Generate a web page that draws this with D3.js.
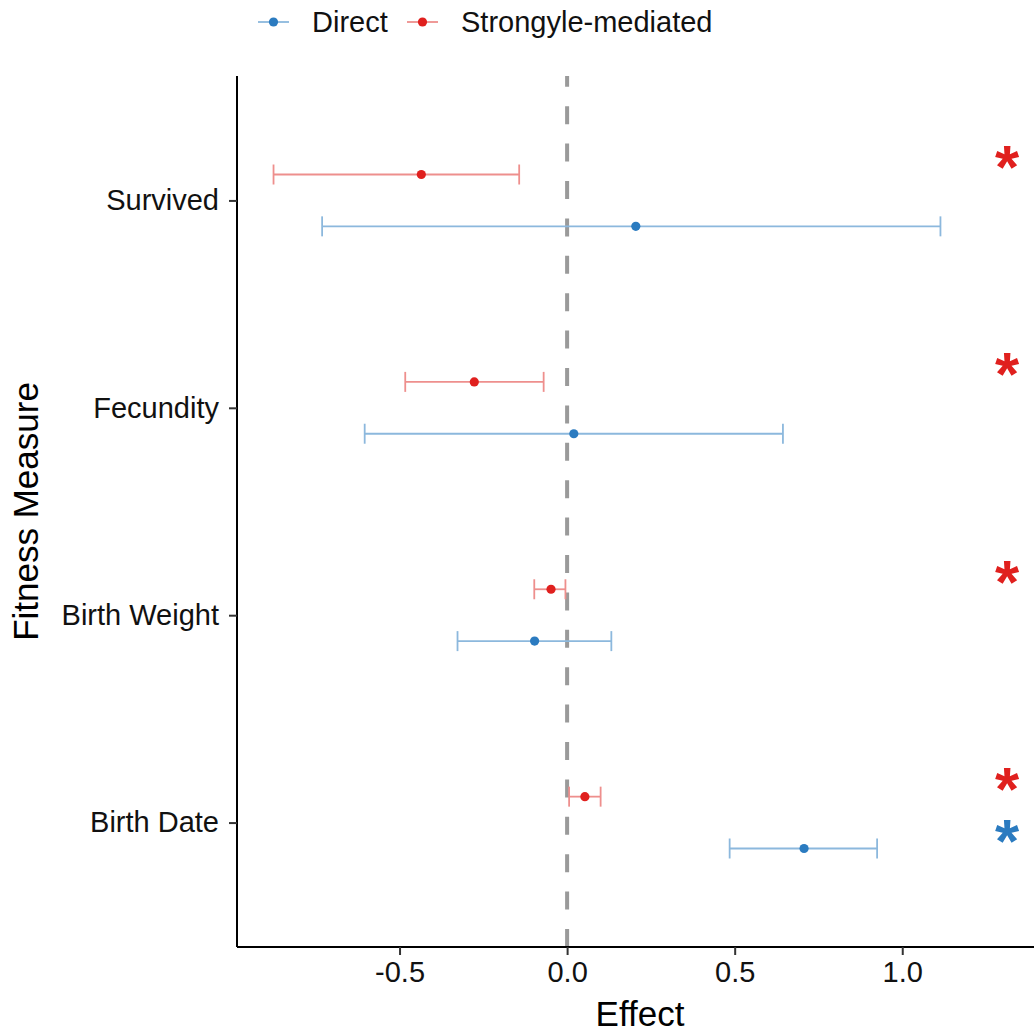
<!DOCTYPE html>
<html>
<head>
<meta charset="utf-8">
<script src="https://cdn.jsdelivr.net/npm/d3@7"></script>
<style>
  body { margin: 0; background: #fff; }
  text { font-family: "Liberation Sans", Arial, sans-serif; }
</style>
</head>
<body>
<div id="chart"></div>
<script>
// Fitness measures, top to bottom
const categories = ['Survived', 'Fecundity', 'Birth Weight', 'Birth Date'];
const seriesNames = ['Direct', 'Strongyle-mediated'];

// Direct effects (estimate and interval)
const directEst = [0.205, 0.020, -0.097, 0.707];
const directLow = [-0.731, -0.604, -0.327, 0.485];
const directHigh = [1.114, 0.644, 0.132, 0.925];
const directSig = [false, false, false, true];

// Strongyle-mediated effects
const strongEst = [-0.435, -0.277, -0.048, 0.053];
const strongLow = [-0.876, -0.483, -0.098, 0.006];
const strongHigh = [-0.143, -0.070, -0.005, 0.100];
const strongSig = [true, true, true, true];

const xTicks = [-0.5, 0.0, 0.5, 1.0];
const starX = 1.313;

const width = 1034, height = 1031;
const colors = { 'Direct': '#2b7bc0', 'Strongyle-mediated': '#e0201e' };
const barColors = { 'Direct': '#8cb8dd', 'Strongyle-mediated': '#ee8f8d' };
const dodge = { 'Direct': 0.125, 'Strongyle-mediated': -0.125 };

const rows = [];
categories.forEach((c, i) => {
  rows.push({ cat: c, series: 'Direct', est: directEst[i], lo: directLow[i], hi: directHigh[i], sig: directSig[i] });
  rows.push({ cat: c, series: 'Strongyle-mediated', est: strongEst[i], lo: strongLow[i], hi: strongHigh[i], sig: strongSig[i] });
});

const svg = d3.select('#chart').append('svg')
  .attr('width', width)
  .attr('height', height);

const plotTop = 76, plotBottom = 947, plotLeft = 237, plotRight = 1043;

// Scales
const x = d3.scaleLinear().domain([-0.985, 1.42]).range([plotLeft, plotRight]);
const y = d3.scalePoint().domain(categories).range([plotTop, plotBottom]).padding(0.6);
const step = y.step();
const yPos = d => y(d.cat) + dodge[d.series] * step;

// Zero reference line (drawn from the bottom up, like ggplot)
svg.append('line')
  .attr('x1', x(0)).attr('x2', x(0))
  .attr('y1', plotBottom).attr('y2', plotTop)
  .attr('stroke', '#9a9a9a')
  .attr('stroke-width', 4)
  .attr('stroke-dasharray', '18,19.4');

// Error bars
const bars = svg.append('g').selectAll('g').data(rows).join('g');
bars.append('line')
  .attr('x1', d => x(d.lo)).attr('x2', d => x(d.hi))
  .attr('y1', yPos).attr('y2', yPos)
  .attr('stroke', d => barColors[d.series])
  .attr('stroke-width', 1.8);
['lo', 'hi'].forEach(k => {
  bars.append('line')
    .attr('x1', d => x(d[k])).attr('x2', d => x(d[k]))
    .attr('y1', d => yPos(d) - 10).attr('y2', d => yPos(d) + 10)
    .attr('stroke', d => barColors[d.series])
    .attr('stroke-width', 1.8);
});

// Points
svg.append('g').selectAll('circle').data(rows).join('circle')
  .attr('cx', d => x(d.est))
  .attr('cy', yPos)
  .attr('r', 4.6)
  .attr('fill', d => colors[d.series]);

// Significance stars
svg.append('g').selectAll('text').data(rows.filter(d => d.sig)).join('text')
  .attr('x', x(starX))
  .attr('y', d => yPos(d) + 13.5)
  .attr('text-anchor', 'middle')
  .attr('font-size', 62)
  .attr('font-weight', 'bold')
  .attr('fill', d => colors[d.series])
  .text('*');

// X axis
const xAxis = svg.append('g')
  .attr('transform', `translate(0,${plotBottom})`)
  .call(d3.axisBottom(x).tickValues(xTicks).tickSizeInner(8).tickSizeOuter(0).tickPadding(6));
xAxis.select('.domain').attr('stroke', '#000').attr('stroke-width', 2)
  .attr('d', `M${plotLeft},0H${width + 20}`);
xAxis.selectAll('.tick line').attr('stroke', '#333').attr('stroke-width', 2);
xAxis.selectAll('.tick text').attr('font-size', 29).attr('fill', '#111')
  .text(d => d3.format('.1f')(d).replace('−', '-'));

// Y axis
const yAxis = svg.append('g')
  .attr('transform', `translate(${plotLeft},0)`)
  .call(d3.axisLeft(y).tickSizeInner(8).tickSizeOuter(0).tickPadding(10));
yAxis.select('.domain').attr('stroke', '#000').attr('stroke-width', 2)
  .attr('d', `M0,${plotTop}V${plotBottom}`);
yAxis.selectAll('.tick line').attr('stroke', '#333').attr('stroke-width', 2);
yAxis.selectAll('.tick text').attr('font-size', 29).attr('fill', '#111');

// Axis titles
svg.append('text')
  .attr('x', (plotLeft + plotRight) / 2)
  .attr('y', 1026)
  .attr('text-anchor', 'middle')
  .attr('font-size', 35)
  .attr('fill', '#000')
  .text('Effect');

svg.append('text')
  .attr('transform', `translate(38,${(plotTop + plotBottom) / 2}) rotate(-90)`)
  .attr('text-anchor', 'middle')
  .attr('font-size', 35)
  .attr('fill', '#000')
  .text('Fitness Measure');

// Legend
const legendX = [258, 407];
const legend = svg.append('g').selectAll('g').data(seriesNames).join('g')
  .attr('transform', (d, i) => `translate(${legendX[i]},22)`);
legend.append('line')
  .attr('x1', 0).attr('x2', 31)
  .attr('stroke', d => barColors[d])
  .attr('stroke-width', 1.8);
legend.append('circle')
  .attr('cx', 15.5).attr('r', 4.6)
  .attr('fill', d => colors[d]);
legend.append('text')
  .attr('x', 54)
  .attr('y', 10)
  .attr('font-size', 29)
  .attr('fill', '#111')
  .text(d => d);
</script>
</body>
</html>
